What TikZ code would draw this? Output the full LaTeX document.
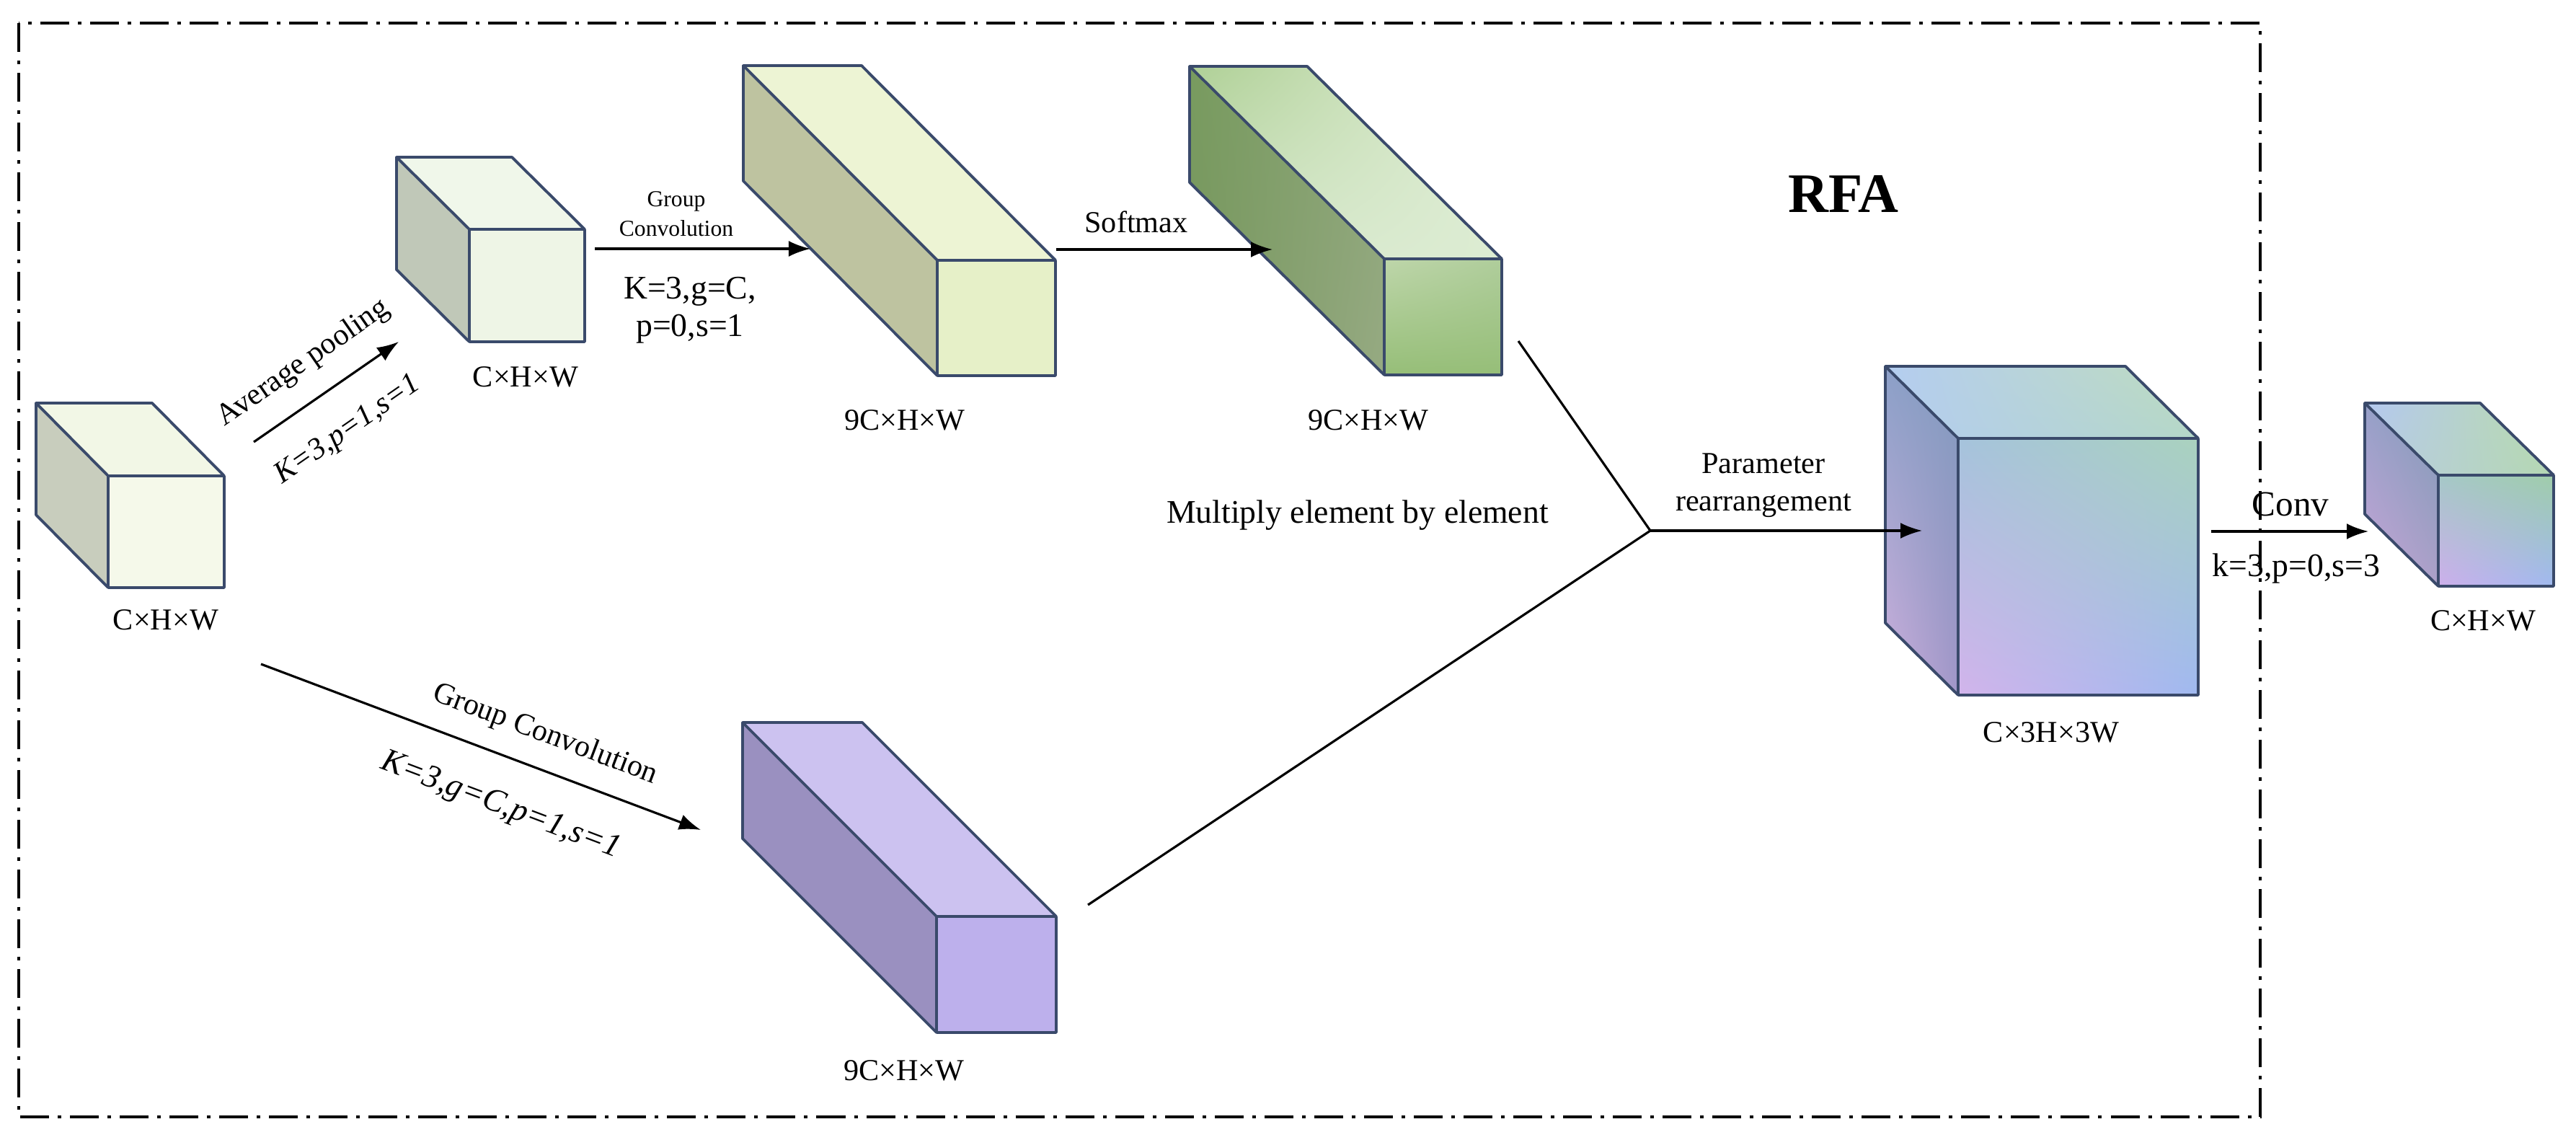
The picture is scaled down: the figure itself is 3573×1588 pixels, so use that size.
\documentclass[tikz,border=0pt]{standalone}
\usepackage{fontspec}
\setmainfont{Liberation Serif}
\usetikzlibrary{arrows.meta,shadings}
\definecolor{edge}{HTML}{3A4A6B}
\newcommand{\mycube}[9]{%
  \fill[#8] (#1,#2)--++(#5,#6)--(#3+#5,#2+#6)--(#3,#2)--cycle;
  \fill[#9] (#1,#2)--++(#5,#6)--(#1+#5,#4+#6)--(#1,#4)--cycle;
  \fill[#7] (#1,#2) rectangle (#3,#4);
  \draw[edge,line width=1.1pt,line join=round] (#1,#2) rectangle (#3,#4)
    (#1,#2)--++(#5,#6)--(#3+#5,#2+#6)--(#3,#2)
    (#1+#5,#2+#6)--(#1+#5,#4+#6)--(#1,#4);}
\begin{document}
\begin{tikzpicture}[x=0.01cm,y=-0.01cm,
  lab/.style={font=\fontsize{12}{13}\selectfont,inner sep=0pt},
  arr/.style={line width=0.9pt,-{Latex[length=0.3cm,width=0.22cm]}},
  ln/.style={line width=0.9pt}]
\useasboundingbox (0,0) rectangle (3573,1588);
% frame
\draw[line width=1.3pt,dash pattern=on 0.4cm off 0.12cm on 0.05cm off 0.12cm] (26,32) rectangle (3135,1549);
% cubes
\mycube{150}{660}{311}{815}{-100}{-101}{color={rgb,255:red,245;green,249;blue,234}}{color={rgb,255:red,242;green,247;blue,230}}{color={rgb,255:red,200;green,205;blue,189}}
\mycube{651}{318}{811}{474}{-101}{-100}{color={rgb,255:red,238;green,245;blue,230}}{color={rgb,255:red,240;green,247;blue,234}}{color={rgb,255:red,192;green,200;blue,184}}
\mycube{1300}{361}{1464}{521}{-269}{-270}{color={rgb,255:red,230;green,240;blue,200}}{color={rgb,255:red,237;green,244;blue,212}}{color={rgb,255:red,190;green,195;blue,160}}
\mycube{1920}{359}{2083}{520}{-270}{-267}{shade,upper left={rgb,255:red,190;green,214;blue,170},upper right={rgb,255:red,175;green,205;blue,155},lower left={rgb,255:red,150;green,190;blue,120},lower right={rgb,255:red,150;green,190;blue,120}}{shade,lower left={rgb,255:red,215;green,232;blue,205},upper left={rgb,255:red,175;green,208;blue,150},upper right={rgb,255:red,225;green,238;blue,215},lower right={rgb,255:red,220;green,236;blue,210}}{shade,upper left={rgb,255:red,120;green,155;blue,95},upper right={rgb,255:red,140;green,165;blue,120},lower left={rgb,255:red,120;green,150;blue,95},lower right={rgb,255:red,150;green,170;blue,130}}
\mycube{1299}{1271}{1465}{1432}{-269}{-269}{color={rgb,255:red,189;green,176;blue,236}}{color={rgb,255:red,204;green,194;blue,240}}{color={rgb,255:red,154;green,144;blue,192}}
\mycube{2716}{608}{3049}{964}{-101}{-100}{shade,upper left={rgb,255:red,165;green,195;blue,220},upper right={rgb,255:red,170;green,210;blue,190},lower left={rgb,255:red,210;green,180;blue,235},lower right={rgb,255:red,160;green,185;blue,240}}{shade,upper left={rgb,255:red,180;green,205;blue,240},upper right={rgb,255:red,190;green,220;blue,190},lower left={rgb,255:red,180;green,205;blue,240},lower right={rgb,255:red,180;green,215;blue,200}}{shade,upper left={rgb,255:red,140;green,160;blue,200},upper right={rgb,255:red,130;green,155;blue,190},lower left={rgb,255:red,205;green,175;blue,220},lower right={rgb,255:red,160;green,150;blue,200}}
\mycube{3382}{659}{3542}{813}{-102}{-100}{shade,upper left={rgb,255:red,165;green,200;blue,200},upper right={rgb,255:red,160;green,205;blue,170},lower left={rgb,255:red,205;green,175;blue,235},lower right={rgb,255:red,160;green,185;blue,240}}{shade,upper left={rgb,255:red,180;green,200;blue,240},upper right={rgb,255:red,185;green,220;blue,170},lower left={rgb,255:red,185;green,205;blue,225},lower right={rgb,255:red,180;green,215;blue,180}}{shade,upper left={rgb,255:red,150;green,160;blue,200},upper right={rgb,255:red,130;green,155;blue,185},lower left={rgb,255:red,200;green,165;blue,215},lower right={rgb,255:red,170;green,160;blue,200}}
% coordinates
\coordinate (ap1) at (352,613); \coordinate (ap2) at (553,474);
\coordinate (gc1) at (825,345); \coordinate (gc2) at (1124,345);
\coordinate (sm1) at (1465,346); \coordinate (sm2) at (1765,346);
\coordinate (lg1) at (362,921); \coordinate (lg2) at (972,1151);
\coordinate (up) at (2106,473); \coordinate (lo) at (1509,1255);
\coordinate (jn) at (2289,736); \coordinate (pr) at (2666,736);
\coordinate (cv1) at (3067,737); \coordinate (cv2) at (3285,737);
% connectors
\draw[arr] (ap1) -- (ap2);
\draw[arr] (gc1) -- (gc2);
\draw[arr] (sm1) -- (sm2);
\draw[arr] (lg1) -- (lg2);
\draw[ln] (up) -- (jn) -- (lo);
\draw[arr] (jn) -- (pr);
\draw[arr] (cv1) -- (cv2);
% labels
\node[lab] (l1) at (230,860) {C×H×W};
\node[lab] (l2) at (729,523) {C×H×W};
\node[lab] (l3) at (1255,583) {9C×H×W};
\node[lab] (l4) at (1898,583) {9C×H×W};
\node[lab] (l5) at (1254,1485) {9C×H×W};
\node[lab] (l6) at (2845,1016) {C×3H×3W};
\node[lab] (l7) at (3444,861) {C×H×W};
\node[lab,rotate=34.7] (t1) at (421,504) {Average pooling};
\node[lab,rotate=34.7,font=\itshape\fontsize{12}{13}\selectfont] (t2) at (483,597) {K=3,p=1,s=1};
\node[lab,font=\fontsize{9}{10}\selectfont] (t3) at (938,279) {Group};
\node[lab,font=\fontsize{9}{10}\selectfont] (t4) at (938,317) {Convolution};
\node[lab,font=\fontsize{13}{14}\selectfont] (t5) at (957,404) {K=3,g=C,};
\node[lab,font=\fontsize{13}{14}\selectfont] (t6) at (957,456) {p=0,s=1};
\node[lab] (t7) at (1576,308) {Softmax};
\node[lab,font=\fontsize{13}{14}\selectfont] (t8) at (1883,715) {Multiply element by element};
\node[lab] (t9) at (2446,643) {Parameter};
\node[lab] (t10) at (2446,701) {rearrangement};
\node[lab,rotate=-20.7] (t11) at (756,1019) {Group Convolution};
\node[lab,rotate=-20.7,font=\itshape\fontsize{13}{14}\selectfont] (t12) at (694,1118) {K=3,g=C,p=1,s=1};
\node[lab,font=\bfseries\fontsize{22}{24}\selectfont] (rfa) at (2557,269) {RFA};
\node[lab,font=\fontsize{14}{15}\selectfont] (t13) at (3177,699) {Conv};
\node[lab,font=\fontsize{13}{14}\selectfont] (t14) at (3185,788) {k=3,p=0,s=3};
\end{tikzpicture}
\end{document}
